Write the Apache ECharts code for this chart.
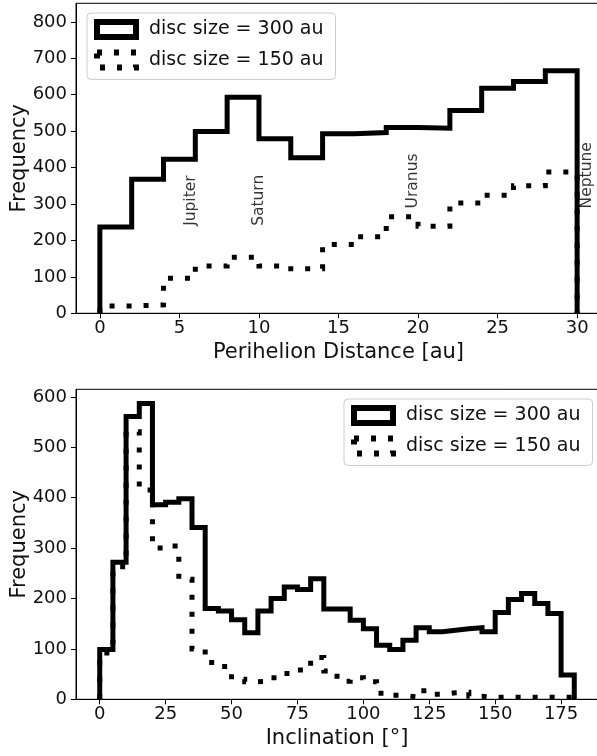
<!DOCTYPE html>
<html>
<head>
<meta charset="utf-8">
<script src="https://cdn.jsdelivr.net/npm/echarts@6/dist/echarts.min.js"></script>
<style>
html,body{margin:0;padding:0;background:#fff;}
#c{width:597px;height:756px;}
</style>
</head>
<body>
<div id="c"></div>
<script>
// ---- Top panel: perihelion distance histogram (bins of 2 au) ----
const periEdges = [0,2,4,6,8,10,12,14,16,18,20,22,24,26,28,30];
const peri300 = [237,368,423,499,593,479,427,493,496,510,508,557,618,636,666];
const peri150 = [20,23,96,130,154,130,122,189,210,265,239,303,324,350,388];
const periTicks = [0,5,10,15,20,25,30];
const periYTicks = [0,100,200,300,400,500,600,700,800];

// planet annotations (semi-major axis [au], text height)
const planetNames = ['Jupiter','Saturn','Uranus','Neptune'];
const planetA = [5.2, 9.5, 19.2, 30.1];
const planetY = [240, 240, 288, 288];

// ---- Bottom panel: inclination histogram (bins of 5 deg) ----
const incEdges = [0,5,10,15,20,25,30,35,40,45,50,55,60,65,70,75,80,85,90,95,100,105,110,115,120,125,130,135,140,145,150,155,160,165,170,175,180];
const inc300 = [99,272,561,587,386,391,398,341,180,175,158,132,175,200,223,218,239,179,179,157,140,107,99,117,142,134,137,140,142,134,172,198,210,190,170,48];
const inc150 = [92,263,531,415,300,304,238,100,73,65,40,35,36,43,51,58,83,56,36,43,35,12,8,5,17,10,13,14,6,4,4,4,4,4,4,4];
const incTicks = [0,25,50,75,100,125,150,175];
const incYTicks = [0,100,200,300,400,500,600];

const name300 = 'disc size = 300 au';
const name150 = 'disc size = 150 au';

function stepPath(edges, vals) {
  const pts = [[edges[0], 0]];
  for (let i = 0; i < vals.length; i++) {
    pts.push([edges[i], vals[i]]);
    pts.push([edges[i + 1], vals[i]]);
  }
  pts.push([edges[edges.length - 1], 0]);
  return pts;
}

const FONT = 'DejaVu Sans';
const TXT = '#111';

function xAxisCfg(grid, min, max, ticks, name) {
  return {
    type: 'value', gridIndex: grid, min: min, max: max,
    name: name, nameLocation: 'middle', nameGap: 29, nameMoveOverlap: false,
    nameTextStyle: {fontSize: 21, color: TXT, fontFamily: FONT},
    axisLine: {show: true, onZero: false, lineStyle: {color: '#000', width: 1}},
    axisTick: {show: true, length: 5, customValues: ticks, lineStyle: {color: '#000', width: 1}},
    axisLabel: {show: true, customValues: ticks, fontSize: 18, color: TXT, fontFamily: FONT, margin: 6},
    splitLine: {show: false}
  };
}
function yAxisCfg(grid, min, max, ticks) {
  return {
    type: 'value', gridIndex: grid, min: min, max: max,
    name: 'Frequency', nameLocation: 'middle', nameGap: 46, nameMoveOverlap: false,
    nameTextStyle: {fontSize: 21, color: TXT, fontFamily: FONT},
    axisLine: {show: true, onZero: false, lineStyle: {color: '#000', width: 1}},
    axisTick: {show: true, length: 5, customValues: ticks, lineStyle: {color: '#000', width: 1}},
    axisLabel: {show: true, customValues: ticks, fontSize: 18, color: TXT, fontFamily: FONT, margin: 9},
    splitLine: {show: false}
  };
}
function legendCfg(left, top) {
  return {
    show: true, orient: 'vertical', left: left, top: top,
    itemWidth: 39, itemHeight: 15, itemGap: 9.4,
    padding: [6, 12, 9, 7],
    backgroundColor: 'rgba(255,255,255,0.85)',
    borderColor: '#cccccc', borderWidth: 1, borderRadius: 4,
    selectedMode: false,
    textStyle: {fontSize: 19, color: TXT, fontFamily: FONT, padding: [0, 0, 0, 8]},
    data: [
      {name: name300, icon: 'rect', itemStyle: {color: '#fff', borderColor: '#000', borderWidth: 6}},
      {name: name150, icon: 'rect', itemStyle: {color: '#fff', borderColor: '#000', borderWidth: 6, borderType: [5, 12]}}
    ]
  };
}
function histSeries(name, xi, edges, vals, dotted) {
  return {
    name: name, type: 'line', xAxisIndex: xi, yAxisIndex: xi,
    data: stepPath(edges, vals),
    showSymbol: false, symbol: 'none', silent: true, animation: false,
    itemStyle: {color: '#000'},
    lineStyle: {color: '#000', width: 5, type: dotted ? [5, 12] : 'solid',
                cap: 'butt', join: 'miter'},
    z: dotted ? 3 : 2
  };
}

const chart = echarts.init(document.getElementById('c'), null, {renderer: 'canvas'});
chart.setOption({
  animation: false,
  backgroundColor: '#fff',
  textStyle: {fontFamily: FONT},
  grid: [
    {left: 76, top: 3.3, width: 525, height: 310, outerBoundsMode: 'none', containLabel: false,
     show: true, borderColor: '#000', borderWidth: 1, backgroundColor: 'transparent'},
    {left: 76, top: 389.3, width: 522, height: 310, outerBoundsMode: 'none', containLabel: false,
     show: true, borderColor: '#000', borderWidth: 1, backgroundColor: 'transparent'}
  ],
  xAxis: [
    xAxisCfg(0, -1.5, 31.5, periTicks, 'Perihelion Distance [au]'),
    xAxisCfg(1, -9, 189, incTicks, 'Inclination [°]')
  ],
  yAxis: [
    yAxisCfg(0, 0, 851, periYTicks),
    yAxisCfg(1, 0, 615, incYTicks)
  ],
  legend: [legendCfg(87, 13), legendCfg(344, 399)],
  series: [
    histSeries(name300, 0, periEdges, peri300, false),
    histSeries(name150, 0, periEdges, peri150, true),
    histSeries(name300, 1, incEdges, inc300, false),
    histSeries(name150, 1, incEdges, inc150, true),
    {
      type: 'scatter', xAxisIndex: 0, yAxisIndex: 0, silent: true,
      symbolSize: 0, z: 5,
      data: planetNames.map((n, i) => [planetA[i], planetY[i], n]),
      label: {
        show: true, formatter: p => p.data[2], rotate: 90,
        position: [0, 0], align: 'left', verticalAlign: 'top',
        fontSize: 15.5, color: '#000', fontFamily: FONT
      }
    }
  ]
});
</script>
</body>
</html>
